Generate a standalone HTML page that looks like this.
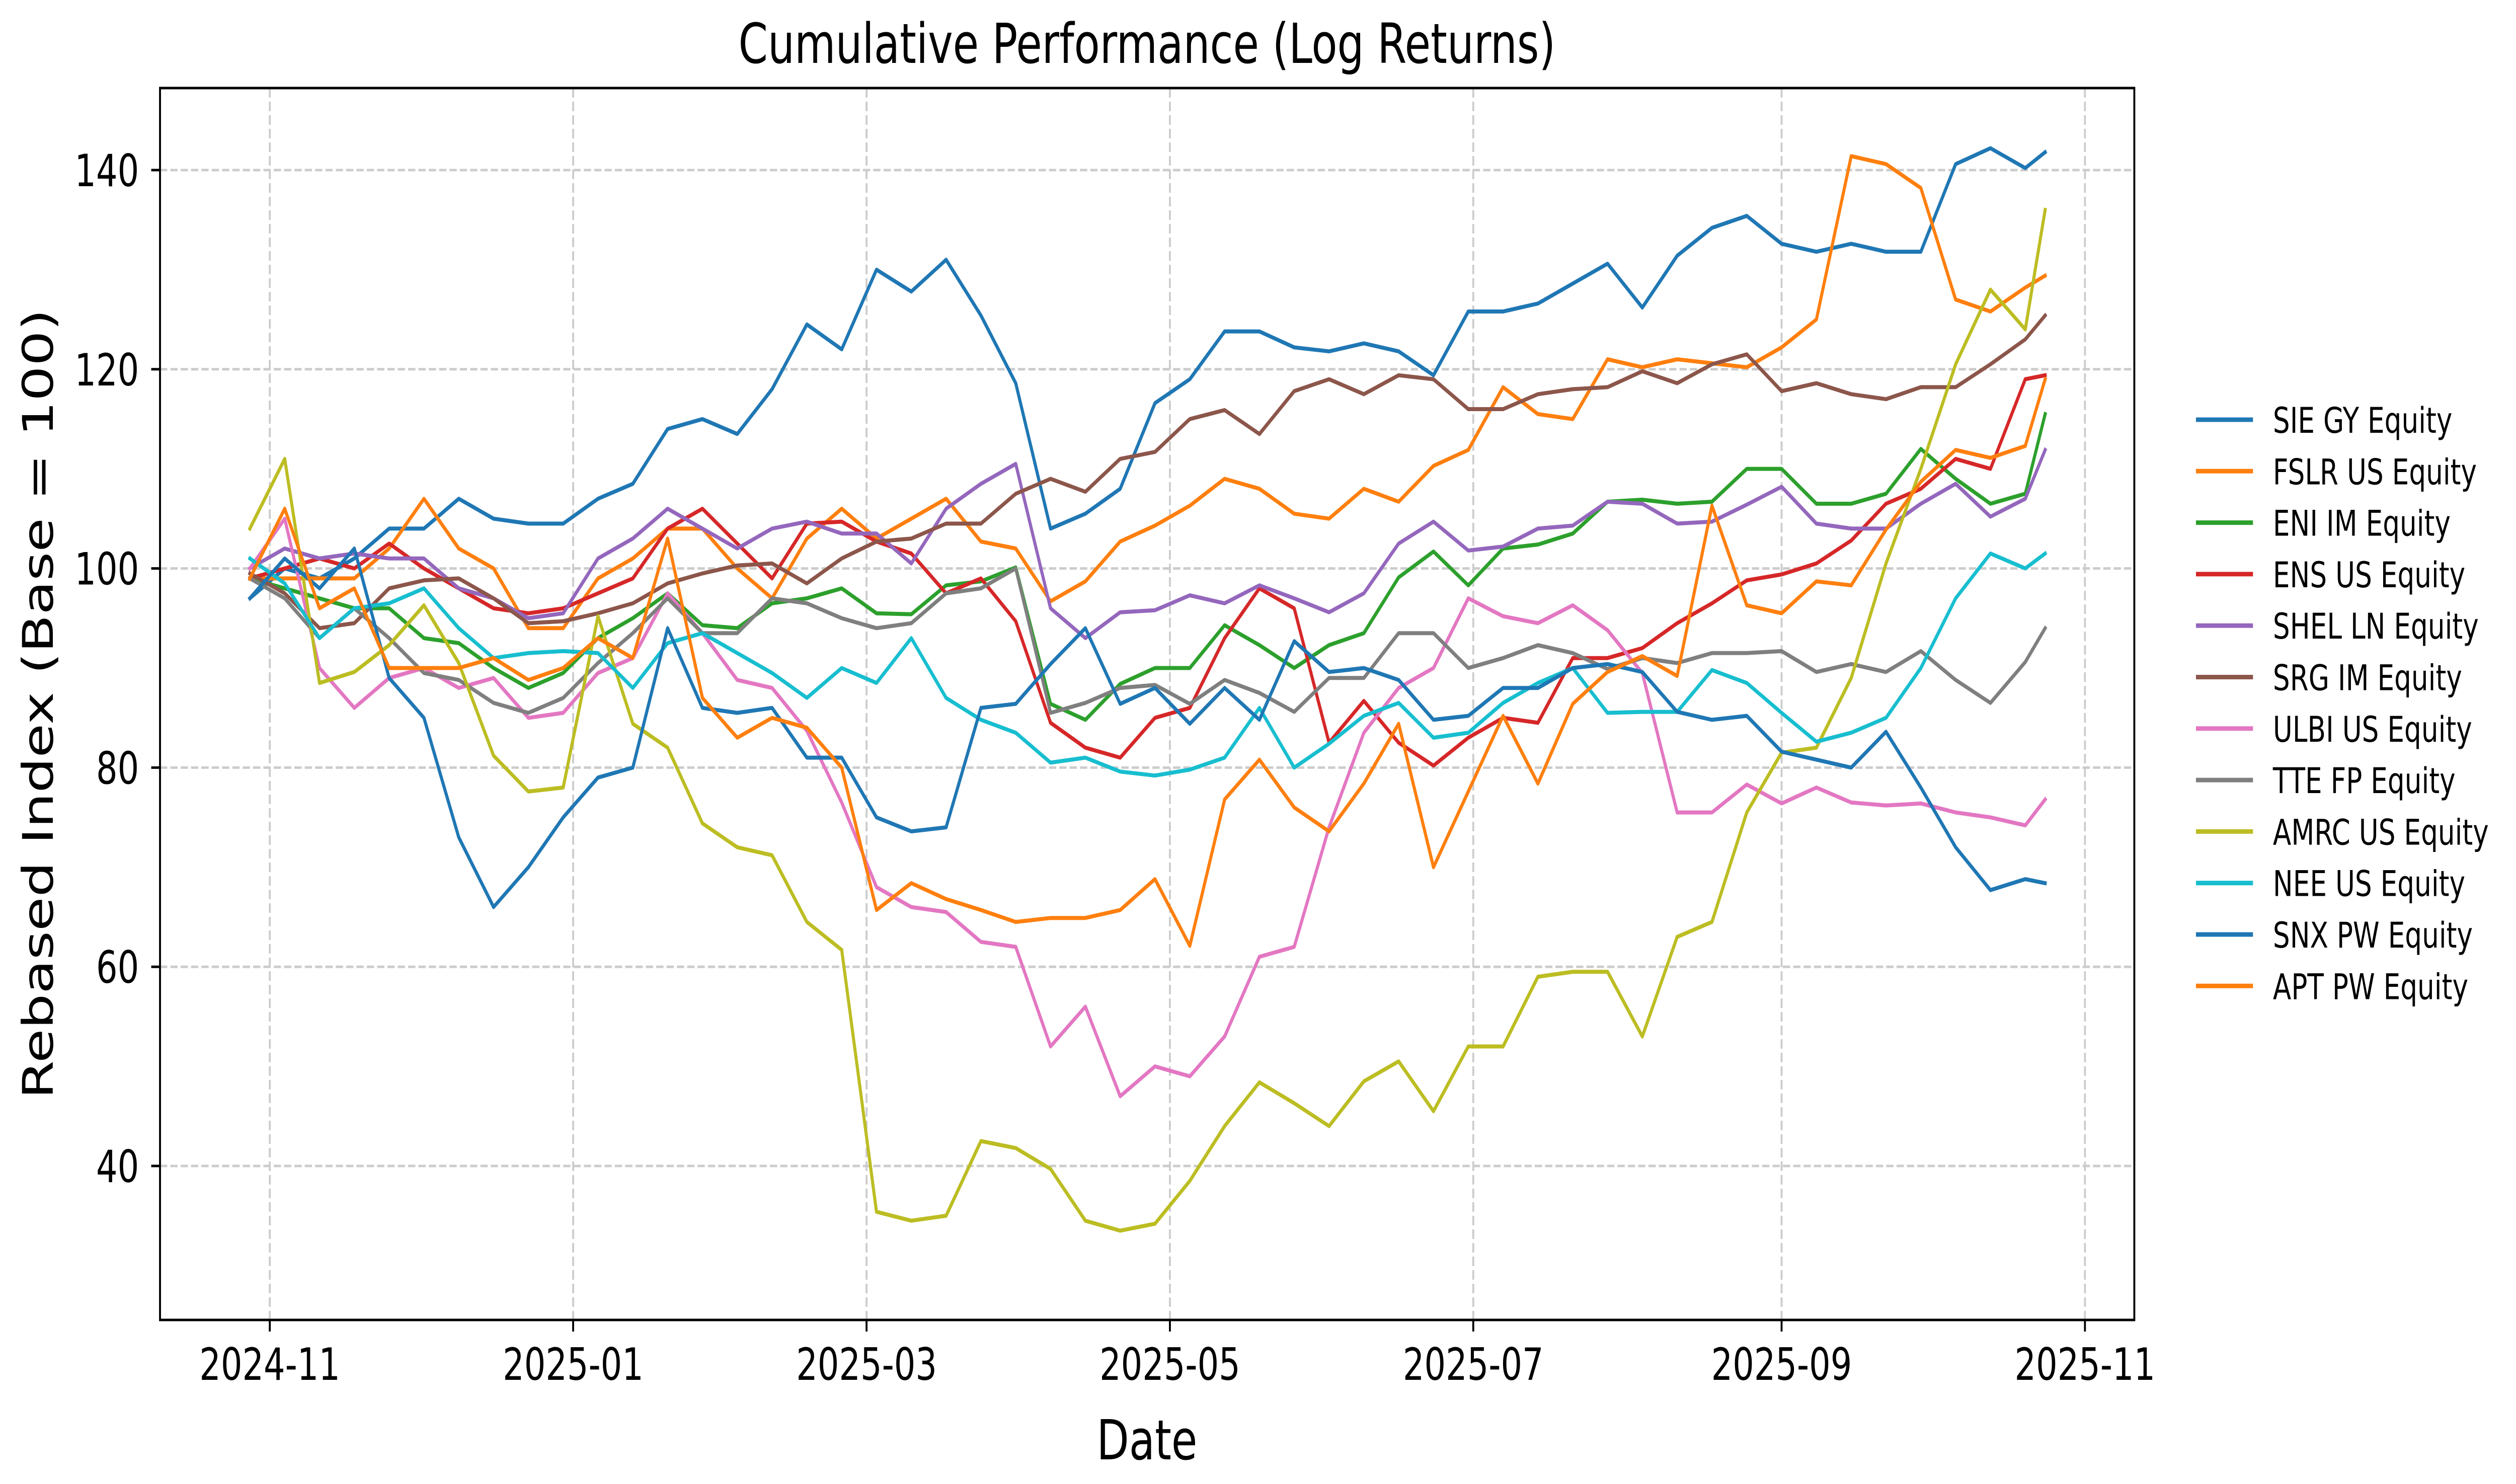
<!DOCTYPE html>
<html><head><meta charset="utf-8"><style>
html,body{margin:0;padding:0;background:#fff;width:100%;height:100%;overflow:hidden;}
svg{display:block;width:100vw;height:100vh;font-family:"DejaVu Sans","Liberation Sans",sans-serif;}
</style></head><body>
<svg id="chart" viewBox="0 0 6572 2949" preserveAspectRatio="none" xmlns="http://www.w3.org/2000/svg">
<rect x="0" y="0" width="6572" height="2949" fill="#fff"/>
<g id="grid"></g>
<g id="series"></g>
<rect x="418" y="175" width="5157" height="2448" fill="none" stroke="#000" stroke-width="5"/>
<g id="ticks"></g>
<text x="2996" y="125" font-size="110" text-anchor="middle">Cumulative Performance (Log Returns)</text>
<text x="2996" y="2900" font-size="110" text-anchor="middle">Date</text>
<text x="0" y="0" font-size="110" text-anchor="middle" transform="translate(138,1399) rotate(-90)">Rebased Index (Base = 100)</text>
<g id="legend"></g>
</svg>
<script>
const names = ["SIE GY Equity","FSLR US Equity","ENI IM Equity","ENS US Equity","SHEL LN Equity","SRG IM Equity","ULBI US Equity","TTE FP Equity","AMRC US Equity","NEE US Equity","SNX PW Equity","APT PW Equity"];
const colors = ["#1f77b4","#ff7f0e","#2ca02c","#d62728","#9467bd","#8c564b","#e377c2","#7f7f7f","#bcbd22","#17becf","#1f77b4","#ff7f0e"];
// days since 2024-11-01 (weekly from 2024-10-28, last 2025-10-24)
const dayOffsets = [-4,3,10,17,24,31,38,45,52,59,66,73,80,87,94,101,108,115,122,129,136,143,150,157,164,171,178,185,192,199,206,213,220,227,234,241,248,255,262,269,276,283,290,297,304,311,318,325,332,339,346,353,357];
const sie = [97,100,99,101,104,104,107,105,104.5,104.5,107,108.5,114,115,113.5,118,124.5,122,130,127.8,131,125.4,118.6,104,105.5,108,116.6,119,123.8,123.8,122.2,121.8,122.6,121.8,119.4,125.8,125.8,126.6,128.6,130.6,126.2,131.4,134.2,135.4,132.6,131.8,132.6,131.8,131.8,140.6,142.2,140.2,141.8];
const fslr = [99,99,99,99,102,107,102,100,94,94,99,101,104,104,100,97,103,106,103,105,107,102.7,102,96.7,98.7,102.7,104.3,106.3,109,108,105.5,105,108,106.7,110.3,111.9,118.2,115.5,115,121,120.2,121,120.6,120.2,122.2,125,141.4,140.6,138.2,127,125.8,128.2,129.4];
const eni = [99,98,97,96,96,93,92.5,90,88,89.5,93,95,97.5,94.3,94,96.5,97,98,95.5,95.4,98.3,98.7,100.1,86.4,84.8,88.4,90,90,94.3,92.3,90,92.3,93.5,99.1,101.7,98.3,102,102.4,103.5,106.7,106.9,106.5,106.7,110,110,106.5,106.5,107.5,112,109,106.5,107.5,115.5];
const ens = [99,100,101,100,102.5,100,98,96,95.5,96,97.5,99,104,106,102.5,99,104.5,104.7,102.7,101.5,97.5,99,94.7,84.5,82,81,85,86,93,98,96,82.5,86.7,82.5,80.2,83,85,84.5,91,91,92,94.5,96.5,98.8,99.4,100.5,102.8,106.5,108,111,110,119,119.4];
const shel = [100,102,101,101.5,101,101,98,97,95,95.5,101,103,106,104,102,104,104.7,103.5,103.5,100.5,106,108.5,110.5,96,93,95.6,95.8,97.3,96.5,98.3,97,95.6,97.5,102.5,104.7,101.8,102.2,104,104.3,106.7,106.5,104.5,104.7,106.4,108.2,104.5,104,104,106.5,108.5,105.2,107,111.9];
const srg = [99.5,97.5,94,94.5,98,98.8,99,97,94.5,94.7,95.5,96.5,98.5,99.5,100.3,100.5,98.5,101,102.7,103,104.5,104.5,107.5,109,107.7,111,111.7,115,115.9,113.5,117.8,119,117.5,119.4,119,116,116,117.5,118,118.2,119.8,118.6,120.5,121.5,117.8,118.6,117.5,117,118.2,118.2,120.5,123,125.4];
const ulbi = [100,105,90,86,89,90,88,89,85,85.5,89.5,91,97.5,93.5,88.8,88,83.7,76.5,68,66,65.5,62.5,62,52,56,47,50,49,53,61,62,74,83.5,88,90,97,95.2,94.5,96.3,93.8,89.5,75.5,75.5,78.3,76.4,78,76.5,76.2,76.4,75.5,75,74.2,76.8];
const tte = [99,97,93,96,93,89.5,88.8,86.5,85.5,87,90.5,93.5,97,93.5,93.5,97,96.5,95,94,94.5,97.5,98,100,85.5,86.5,88,88.3,86.4,88.8,87.5,85.6,89,89,93.5,93.5,90,91,92.3,91.5,89.9,91,90.5,91.5,91.5,91.7,89.6,90.4,89.6,91.7,88.8,86.5,90.6,94];
const amrc = [104,111,88.5,89.6,92.3,96.3,90.5,81.2,77.6,78,95.2,84.4,82,74.4,72,71.2,64.5,61.7,35.4,34.5,35,42.5,41.8,39.7,34.5,33.5,34.2,38.5,44,48.4,46.3,44,48.5,50.5,45.5,52,52,59,59.5,59.5,53,63,64.5,75.5,81.5,82,89,100.5,110,120.5,128,124,136];
const nee = [101,98.5,93,96,96.5,98,94,91,91.5,91.7,91.5,88,92.5,93.5,91.5,89.5,87,90,88.5,93,87,84.8,83.5,80.5,81,79.6,79.2,79.8,81,86,80,82.4,85.2,86.5,83,83.5,86.5,88.5,90,85.5,85.6,85.6,89.8,88.5,85.5,82.6,83.5,85,90,97,101.5,100,101.5];
const snx = [97,101,98,102,89,85,73,66,70,75,79,80,94,86,85.5,86,81,81,75,73.6,74,86,86.4,90.4,94,86.4,88,84.4,88,84.8,92.7,89.6,90,88.8,84.8,85.2,88,88,90,90.4,89.6,85.6,84.8,85.2,81.6,80.8,80,83.6,78,72,67.7,68.8,68.4];
const apt = [99,106,96,98,90,90,90,91,88.8,90,93,91,103,87,83,85,84,80,65.7,68.4,66.8,65.7,64.5,64.9,64.9,65.7,68.8,62.1,76.8,80.8,76,73.6,78.4,84.4,70,77.6,85.2,78.4,86.4,89.6,91.2,89.2,106.3,96.3,95.5,98.7,98.3,103.9,108.7,111.9,111.1,112.3,119];
const seriesValues = [sie,fslr,eni,ens,shel,srg,ulbi,tte,amrc,nee,snx,apt];
const yTicks = [40,60,80,100,120,140];
const xTickDays = [0,61,120,181,242,304,365];
const xTickLabels = ["2024-11","2025-01","2025-03","2025-05","2025-07","2025-09","2025-11"];

const NS = "http://www.w3.org/2000/svg";
const L = 418, R = 5575, T = 175, B = 2623;
function xScale(d){ return 704.7 + 12.99 * d; }
function yScale(v){ return 338 + (140 - v) * 19.79; }
function mk(tag, attrs, parent){ const e = document.createElementNS(NS, tag); for (const k in attrs) e.setAttribute(k, attrs[k]); parent.appendChild(e); return e; }

const grid = document.getElementById('grid');
const ticks = document.getElementById('ticks');
yTicks.forEach(v => {
  const y = yScale(v);
  const g = mk('line', {x1:L, x2:R, y1:y, y2:y, stroke:'#cccccc', 'stroke-width':5, 'stroke-dasharray':'19 8'}, grid);
  
  
  const t = mk('line', {x1:L-23, x2:L, y1:y, y2:y, stroke:'#000', 'stroke-width':5}, ticks);
  
  
  const lb = mk('text', {x:363, y:y+32, 'font-size':88, 'text-anchor':'end'}, ticks);
  lb.textContent = v;
  
  
});
xTickDays.forEach((d, i) => {
  const x = xScale(d);
  const g = mk('line', {x1:x, x2:x, y1:T, y2:B, stroke:'#cccccc', 'stroke-width':5, 'stroke-dasharray':'19 8'}, grid);
  
  
  const t = mk('line', {x1:x, x2:x, y1:B, y2:B+23, stroke:'#000', 'stroke-width':5}, ticks);
  
  
  const lb = mk('text', {x:x, y:2742, 'font-size':88, 'text-anchor':'middle'}, ticks);
  lb.textContent = xTickLabels[i];
  
  
});

const sg = document.getElementById('series');
seriesValues.forEach((vals, i) => {
  const pts = vals.map((v, j) => xScale(dayOffsets[j]).toFixed(1) + ',' + yScale(v).toFixed(1)).join(' ');
  const p = mk('polyline', {points:pts, fill:'none', stroke:colors[i], 'stroke-width':8, 'stroke-linejoin':'round', 'stroke-linecap':'square'}, sg);
  
  
});

const lg = document.getElementById('legend');
names.forEach((n, i) => {
  const y = 834 + i * 102.3;
  const ln = mk('line', {x1:5736, x2:5885, y1:y, y2:y, stroke:colors[i], 'stroke-width':9}, lg);
  
  
  const t = mk('text', {x:5937, y:y+26, 'font-size':70}, lg);
  t.textContent = n;
  
  
});
</script>
</body></html>
